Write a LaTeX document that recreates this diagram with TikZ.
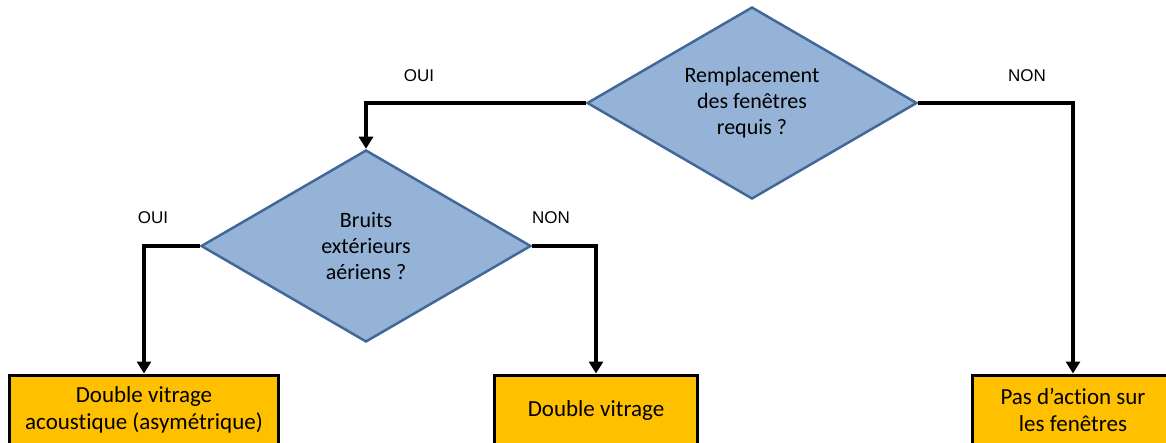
\documentclass[tikz,border=0pt]{standalone}
\usepackage{fontspec}
\setmainfont{Carlito}[Ligatures=NoCommon]
\newfontfamily\labelfont{Liberation Sans}
\usetikzlibrary{shapes.geometric,arrows.meta}
\definecolor{qfill}{RGB}{149,179,215}
\definecolor{qdraw}{RGB}{65,104,153}
\definecolor{rfill}{RGB}{255,192,0}
\begin{document}
\begin{tikzpicture}[
            x=1pt, y=-1pt,
            question/.style={
                diamond, aspect=1.72, draw=qdraw, fill=qfill, line width=2.5pt,
                minimum width=330pt, minimum height=192pt, inner sep=0pt,
                align=center, font=\fontsize{22}{26}\selectfont
            },
            answer/.style={
                rectangle, draw, fill=rfill, line width=3pt, minimum height=70pt,
                align=center, font=\fontsize{23}{27}\selectfont
            },
            choice/.style={font=\labelfont\fontsize{17}{20}\selectfont},
            link/.style={line width=4pt, -{Triangle[length=12pt,width=14pt]}}
        ]
        \clip (0,0) rectangle (1166,443);

        \node[question] (q1) at (752,103) {Remplacement\\des fenêtres\\requis ?};
        \node[question] (q2) at (366,246) {Bruits\\extérieurs\\aériens ?};

        \node[answer, minimum width=269pt] (r1) at (144,410) {Double vitrage\\acoustique (asymétrique)};
        \node[answer, minimum width=203pt] (r2) at (596,410) {Double vitrage};
        \node[answer, minimum width=202pt] (r3) at (1073,410) {Pas d’action sur\\les fenêtres};

        \draw[link] (q1.west) -| (q2.north);
        \draw[link] (q1.east) -| (r3.north);
        \draw[link] (q2.west) -| (r1.north);
        \draw[link] (q2.east) -| (r2.north);

        \node[choice] (c1) at (419,76) {OUI};
        \node[choice] (c2) at (1027,76) {NON};
        \node[choice] (c3) at (153,218) {OUI};
        \node[choice] (c4) at (551,218) {NON};

    \end{tikzpicture}
\end{document}
